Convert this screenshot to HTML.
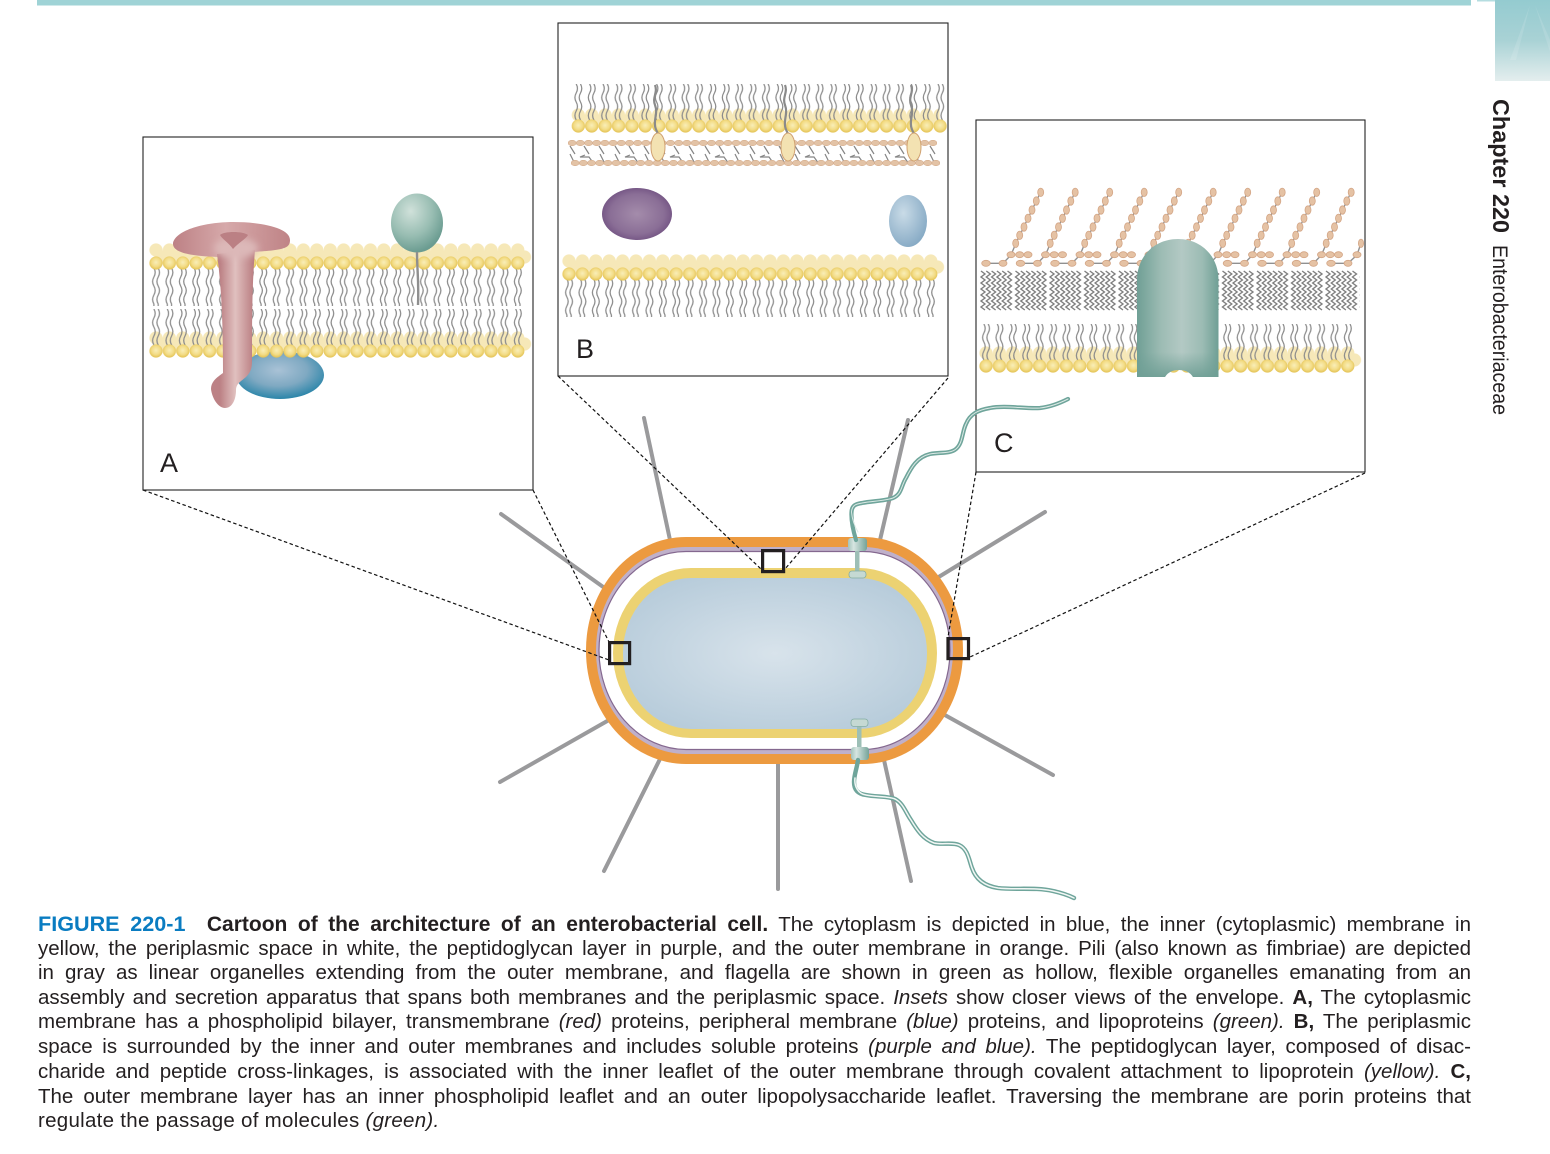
<!DOCTYPE html>
<html lang="en">
<head>
<meta charset="utf-8">
<title>Figure 220-1</title>
<style>
html,body{margin:0;padding:0;background:#fff;}
body{position:relative;width:1550px;height:1154px;overflow:hidden;font-family:"Liberation Sans",sans-serif;}
svg{position:absolute;left:0;top:0;}
.l{position:absolute;left:38px;width:1433px;height:24px;line-height:24px;font-size:20.5px;color:#231f20;text-align:justify;text-align-last:justify;overflow:hidden;}
.l.last{text-align-last:left;letter-spacing:.28px;}
.l b.fig{color:#0a7cc1;margin-right:11px;font-size:21.6px;}
.l b.ttl{font-size:21px;}
.l i{font-style:italic;}
</style>
</head>
<body>
<svg width="1550" height="1154" viewBox="0 0 1550 1154" xmlns="http://www.w3.org/2000/svg">
<defs>
  <radialGradient id="gHead" cx="50%" cy="45%" r="55%"><stop offset="0" stop-color="#f9eeb8"/><stop offset="0.6" stop-color="#f3dc86"/><stop offset="1" stop-color="#e3c253"/></radialGradient>
  <pattern id="hf" patternUnits="userSpaceOnUse" width="13.4" height="14"><circle cx="6.7" cy="7" r="6.6" fill="url(#gHead)"/></pattern>
  <pattern id="hb" patternUnits="userSpaceOnUse" width="13.4" height="14"><circle cx="6.7" cy="7" r="6.6" fill="#f6e8b8"/></pattern>
  <pattern id="tl" patternUnits="userSpaceOnUse" width="13.4" height="38">
    <path d="M4.6 0c1.7 3 1.7 6 0 9c-1.7 3-1.7 6 0 9c1.7 3 1.7 6 0 9c-1.7 3-1.7 6 0 9v2M8.9 0c1.7 3 1.7 6 0 9c-1.7 3-1.7 6 0 9c1.7 3 1.7 6 0 9c-1.7 3-1.7 6 0 9v2" fill="none" stroke="#8a8a8a" stroke-width="1.25"/>
  </pattern>
  <path id="zs" d="M0 1l4 3l-4 3l4 3l-4 3l4 3l-4 3l4 3l-4 3l4 3l-4 3l4 3l-4 3l4 3" fill="none" stroke="#7f7f7f" stroke-width="1.4"/>
  <pattern id="zig" patternUnits="userSpaceOnUse" width="34.5" height="44">
    <use href="#zs" x="1"/><use href="#zs" x="6.3"/><use href="#zs" x="11.6"/><use href="#zs" x="16.9"/><use href="#zs" x="22.2"/><use href="#zs" x="27.5"/>
  </pattern>
  <pattern id="pgb" patternUnits="userSpaceOnUse" width="8.2" height="6"><ellipse cx="4.1" cy="3" rx="4" ry="2.8" fill="#e3c3a6" stroke="#d4ab8a" stroke-width=".5"/></pattern>
  <pattern id="pep" patternUnits="userSpaceOnUse" width="45" height="20">
    <path d="M1 1l5 8M15 1l5 8M30 1l5 8M1 9l5 10M16 10l-5 2h9l5 7M31 9l5 10" fill="none" stroke="#858585" stroke-width="1.2"/>
  </pattern>
  <g id="lps">
    <path d="M986 263.3H1003L1011 255L1016 243L1040.7 192" fill="none" stroke="#909090" stroke-width="1.4"/>
    <g fill="#e5c2a4" stroke="#d3a585" stroke-width=".8">
      <ellipse cx="986" cy="263.3" rx="4.3" ry="3"/><ellipse cx="1003" cy="263.3" rx="4" ry="3"/>
      <ellipse cx="1011" cy="254.7" rx="4" ry="3"/><ellipse cx="1019.7" cy="254.7" rx="4" ry="3"/><ellipse cx="1028" cy="254.7" rx="4" ry="3"/>
      <ellipse cx="1015.7" cy="243.3" rx="3" ry="4.2"/><ellipse cx="1019.7" cy="235.3" rx="3" ry="4.2"/><ellipse cx="1024" cy="227" rx="3" ry="4.2"/><ellipse cx="1028" cy="218.3" rx="3" ry="4.2"/><ellipse cx="1032" cy="210" rx="3" ry="4.2"/><ellipse cx="1036.3" cy="201" rx="3" ry="4.2"/><ellipse cx="1040.7" cy="192.3" rx="3" ry="4.2"/>
    </g>
  </g>
  <radialGradient id="gBlueP" cx="48%" cy="40%" r="60%"><stop offset="0" stop-color="#a9c2d6"/><stop offset=".55" stop-color="#7fa9c2"/><stop offset="1" stop-color="#2b85a9"/></radialGradient>
  <radialGradient id="gGreenB" cx="38%" cy="30%" r="70%"><stop offset="0" stop-color="#d0e1da"/><stop offset=".6" stop-color="#98bdb2"/><stop offset="1" stop-color="#6b9c91"/></radialGradient>
  <linearGradient id="gCap2" x1="0" y1="0" x2="1" y2="0"><stop offset="0" stop-color="#bd8185"/><stop offset=".45" stop-color="#d6a9aa"/><stop offset="1" stop-color="#bf8386"/></linearGradient>
  <linearGradient id="gStem" gradientUnits="userSpaceOnUse" x1="220" y1="0" x2="254" y2="0"><stop offset="0" stop-color="#bc8185"/><stop offset=".45" stop-color="#e0c0bf"/><stop offset="1" stop-color="#ba7d81"/></linearGradient>
  <filter id="blur3" x="-30%" y="-60%" width="160%" height="220%"><feGaussianBlur stdDeviation="3.5"/></filter>
  <radialGradient id="gPur" cx="50%" cy="50%" r="55%"><stop offset="0" stop-color="#a48cab"/><stop offset=".7" stop-color="#8a6e96"/><stop offset="1" stop-color="#6f4f80"/></radialGradient>
  <radialGradient id="gBl2" cx="38%" cy="35%" r="70%"><stop offset="0" stop-color="#c9dbe7"/><stop offset="1" stop-color="#85a9c4"/></radialGradient>
  <linearGradient id="gPorin" x1="0" y1="0" x2="1" y2="0"><stop offset="0" stop-color="#6f9f95"/><stop offset=".3" stop-color="#9dbcb4"/><stop offset=".55" stop-color="#b3c9c4"/><stop offset=".8" stop-color="#9cbcb4"/><stop offset="1" stop-color="#6f9f95"/></linearGradient>
  <linearGradient id="gPorinB" x1="0" y1="0" x2="0" y2="1"><stop offset="0" stop-color="#6f9f95" stop-opacity="0"/><stop offset=".82" stop-color="#6f9f95" stop-opacity="0"/><stop offset="1" stop-color="#6f9f95" stop-opacity=".9"/></linearGradient>
  <radialGradient id="gCyt" cx="50%" cy="50%" r="60%"><stop offset="0" stop-color="#d8e3eb"/><stop offset="1" stop-color="#b6cbda"/></radialGradient>
  <linearGradient id="gCapT" x1="0" y1="0" x2="1" y2="0"><stop offset="0" stop-color="#a3c3bb"/><stop offset=".3" stop-color="#d7e5e1"/><stop offset="1" stop-color="#74a398"/></linearGradient>
  <linearGradient id="gCorner" x1="0" y1="0" x2="0" y2="1"><stop offset="0" stop-color="#94cbd0"/><stop offset=".5" stop-color="#a9d2d5"/><stop offset="1" stop-color="#e4eeee"/></linearGradient>
</defs>

<!-- header -->
<rect x="37" y="0" width="1434" height="5.5" fill="#9fd3d6"/>
<rect x="1477" y="0" width="18" height="1.5" fill="#b5dde0"/>
<rect x="1495" y="0" width="55" height="81" fill="url(#gCorner)"/>
<path d="M1535 5L1550 40V52ZM1530 5L1510 60L1516 60Z" fill="#fff" opacity=".12"/>
<text transform="translate(1493,99) rotate(90)" font-family="Liberation Sans,sans-serif" font-size="23" font-weight="bold" fill="#231f20" textLength="134" lengthAdjust="spacingAndGlyphs">Chapter 220</text>
<text transform="translate(1493,245) rotate(90)" font-family="Liberation Sans,sans-serif" font-size="21" fill="#231f20" textLength="170" lengthAdjust="spacingAndGlyphs">Enterobacteriaceae</text>

<!-- pili -->
<g stroke="#9a9a9c" stroke-width="4" stroke-linecap="round" fill="none">
  <path d="M644 418L670 540M501 514L606 589M908 420L880 540M1045 512L937 578M1053 775L943 714M911 881L884 760M778 889L778 762M604 871L660 759M500 782L609 720"/>
</g>

<!-- cell -->
<rect x="586" y="537" width="377" height="227" rx="100" ry="113" fill="#ec9a40"/>
<rect x="596" y="547" width="357" height="207" rx="90" ry="103" fill="#bfb0ca"/>
<rect x="599" y="551.5" width="351" height="198" rx="87" ry="99" fill="#fff" stroke="#84688f" stroke-width="1.2"/>
<rect x="613" y="568" width="324" height="170" rx="78" ry="85" fill="#ecd272"/>
<rect x="623" y="578" width="304" height="151" rx="68" ry="75" fill="url(#gCyt)"/>

<!-- apparatus -->
<rect x="855" y="551" width="4.5" height="21" fill="#9dbfb6"/>
<rect x="848" y="538" width="19" height="13" rx="3" fill="url(#gCapT)"/>
<rect x="849" y="571" width="17" height="7" rx="3" fill="#c5d9d3" stroke="#83ada3" stroke-width=".8"/>
<rect x="857" y="726" width="4.5" height="21" fill="#9dbfb6"/>
<rect x="851" y="747" width="18" height="13" rx="3" fill="url(#gCapT)"/>
<rect x="851" y="719" width="17" height="7.5" rx="3" fill="#c5d9d3" stroke="#83ada3" stroke-width=".8"/>

<!-- dashed connectors -->
<g fill="none" stroke="#111" stroke-width="1.2" stroke-dasharray="3.5 2.5">
  <path d="M143 490L609 660M533 490L609 642M558 376L761 569M948 378L785 569M976 472L948 637M1365 473L970 657"/>
</g>

<!-- selection squares -->
<g fill="none" stroke="#231f20" stroke-width="3.2">
  <rect x="609.6" y="642.6" width="20" height="21"/>
  <rect x="762.6" y="550.6" width="21" height="21"/>
  <rect x="948" y="638.6" width="20.5" height="20"/>
</g>

<!-- Panel A -->
<rect x="143" y="137" width="390" height="353" fill="#fff" stroke="#222" stroke-width="1.1"/>
<rect transform="translate(149.3,243)" width="375.2" height="14" fill="url(#hb)"/>
<rect transform="translate(156,250)" width="375.2" height="14" fill="url(#hb)"/>
<rect transform="translate(149.3,268)" width="375.2" height="38" fill="url(#tl)"/>
<rect transform="translate(149.3,256)" width="375.2" height="14" fill="url(#hf)"/>
<ellipse cx="280" cy="375" rx="44" ry="24" fill="url(#gBlueP)"/>
<rect transform="translate(149.3,331)" width="375.2" height="14" fill="url(#hb)"/>
<rect transform="translate(156,337)" width="375.2" height="14" fill="url(#hb)"/>
<rect transform="translate(149.3,309)" width="375.2" height="38" fill="url(#tl)"/>
<rect transform="translate(149.3,344)" width="375.2" height="14" fill="url(#hf)"/>
<ellipse cx="417" cy="223" rx="26" ry="29.5" fill="url(#gGreenB)"/>
<path d="M417 252C417 270 419 280 418 305" fill="none" stroke="#8f8f8f" stroke-width="2.4"/>
<!-- transmembrane protein -->
<path d="M173 243C176 230 205 222 233 222C262 222 290 228 290 240C290 248 285 250 253 252L218 257C195 256 172 254 173 243Z" fill="url(#gCap2)"/>
<path d="M217 254C222 290 223 330 223 373C216 378 211 382 211 389C212 398 218 408 225 408C232 408 236 400 236 390C236 384 240 382 246 377C251 372 252 368 252 360C252 320 252 285 255 250Z" fill="url(#gStem)"/>
<ellipse cx="236" cy="248" rx="22" ry="10" fill="#dcb8b8" filter="url(#blur3)"/>
<path d="M220 235C224 231 243 231 248 235C246 239 238 243 233 249C229 243 222 239 220 235Z" fill="#bb8084"/>
<text x="160" y="472" font-family="Liberation Sans,sans-serif" font-size="27" fill="#231f20">A</text>

<!-- Panel B -->
<rect x="558" y="23" width="390" height="353" fill="#fff" stroke="#222" stroke-width="1.1"/>
<rect transform="translate(571.6,108)" width="368" height="14" fill="url(#hb)"/>
<rect transform="translate(578.3,114)" width="362" height="14" fill="url(#hb)"/>
<rect transform="translate(571.6,84)" width="375.2" height="38" fill="url(#tl)"/>
<rect transform="translate(571.6,119)" width="375.2" height="14" fill="url(#hf)"/>
<rect transform="translate(569,145)" width="369" height="20" fill="url(#pep)"/>
<rect transform="translate(568,140)" width="369" height="6" fill="url(#pgb)"/>
<rect transform="translate(571,160)" width="369" height="6" fill="url(#pgb)"/>
<g fill="none" stroke="#8a8a8a" stroke-width="2.2">
  <path d="M655 85c3 8-3 12 0 20c3 8-1 14 0 20c0 4 2 6 3 9"/>
  <path d="M785 85c3 8-3 12 0 20c3 8-1 14 0 20c0 4 2 6 3 9"/>
  <path d="M911 85c3 8-3 12 0 20c3 8-1 14 0 20c0 4 2 6 3 9"/>
</g>
<g fill="#f3e2b2" stroke="#d0a171" stroke-width="1">
  <ellipse cx="658" cy="147" rx="7" ry="14"/>
  <ellipse cx="788" cy="147" rx="7" ry="14"/>
  <ellipse cx="914" cy="147" rx="7" ry="14"/>
</g>
<ellipse cx="637" cy="214" rx="35" ry="26" fill="url(#gPur)"/>
<ellipse cx="908" cy="221" rx="19" ry="26" fill="url(#gBl2)"/>
<rect transform="translate(562.3,254)" width="375.2" height="14" fill="url(#hb)"/>
<rect transform="translate(569,260)" width="375.2" height="14" fill="url(#hb)"/>
<rect transform="translate(562.3,279)" width="375.2" height="38" fill="url(#tl)"/>
<rect transform="translate(562.3,267)" width="375.2" height="14" fill="url(#hf)"/>
<text x="576" y="358" font-family="Liberation Sans,sans-serif" font-size="27" fill="#231f20">B</text>

<!-- Panel C -->
<rect x="976" y="120" width="389" height="352" fill="#fff" stroke="#222" stroke-width="1.1"/>
<use href="#lps"/><use href="#lps" x="34.5"/><use href="#lps" x="69"/><use href="#lps" x="103.5"/><use href="#lps" x="138"/><use href="#lps" x="172.5"/><use href="#lps" x="207"/><use href="#lps" x="241.5"/><use href="#lps" x="276"/><use href="#lps" x="310.5"/>
<path d="M1331 263.3H1348L1357 255L1361 243" fill="none" stroke="#909090" stroke-width="1.4"/>
<g fill="#e5c2a4" stroke="#d3a585" stroke-width=".8"><ellipse cx="1331" cy="263.3" rx="4.3" ry="3"/><ellipse cx="1348" cy="263.3" rx="4" ry="3"/><ellipse cx="1357" cy="254.7" rx="4" ry="3"/><ellipse cx="1361" cy="243.3" rx="2.6" ry="4.2"/></g>
<rect transform="translate(980,270)" width="380" height="44" fill="url(#zig)"/>
<rect transform="translate(979.3,346)" width="375.2" height="14" fill="url(#hb)"/>
<rect transform="translate(986,353)" width="375.2" height="14" fill="url(#hb)"/>
<rect transform="translate(979.3,324)" width="375.2" height="38" fill="url(#tl)"/>
<rect transform="translate(979.3,359)" width="375.2" height="14" fill="url(#hf)"/>
<path d="M1137 377V280C1137 256 1155 239 1178 239C1201 239 1218.5 256 1218.5 280V377H1193C1190 372 1185 370 1179 370C1173 370 1168 372 1165 377Z" fill="url(#gPorin)"/>
<path d="M1137 377V280C1137 256 1155 239 1178 239C1201 239 1218.5 256 1218.5 280V377H1193C1190 372 1185 370 1179 370C1173 370 1168 372 1165 377Z" fill="url(#gPorinB)"/>
<text x="994" y="452" font-family="Liberation Sans,sans-serif" font-size="27" fill="#231f20">C</text>

<!-- flagella -->
<g fill="none" stroke-linecap="round">
  <path d="M856 540C853 530 851 520 851.5 512C852 505 856 504 862 503C872 501 885 501 893 498C902 494 901 486 906 478C911 468 917 457 930 454C940 452 950 454 956 449C963 443 962 432 966 424C970 414 978 410 990 408C1005 405 1025 409 1040 408C1050 407 1060 403 1068 399" stroke="#6fa59b" stroke-width="4.2"/>
  <path d="M858 532C854 525 852 518 851.5 512C852 505 856 504 862 503C872 501 885 501 893 498C902 494 901 486 906 478C911 468 917 457 930 454C940 452 950 454 956 449C963 443 962 432 966 424C970 414 978 410 990 408C1005 405 1025 409 1040 408C1050 407 1060 403 1068 399" stroke="#dbe9e5" stroke-width="1"/>
  <path d="M858 760C857 768 854 775 854 782C854 790 858 794 866 795C875 797 888 796 895 799C903 803 906 813 911 820C917 830 923 839 934 843C942 845 952 842 959 845C968 849 969 860 972 868C976 880 985 886 998 888C1015 890 1035 887 1053 891C1062 893 1068 895 1074 898" stroke="#6fa59b" stroke-width="4.4"/>
  <path d="M855 778C854 786 858 794 866 795C875 797 888 796 895 799C903 803 906 813 911 820C917 830 923 839 934 843C942 845 952 842 959 845C968 849 969 860 972 868C976 880 985 886 998 888C1015 890 1035 887 1053 891C1062 893 1068 895 1074 898" stroke="#f2f7f5" stroke-width="1.5"/>
</g>
</svg>

<div class="l" style="top:912px"><b class="fig">FIGURE 220-1</b> <b class="ttl">Cartoon of the architecture of an enterobacterial cell.</b> The cytoplasm is depicted in blue, the inner (cytoplasmic) membrane in</div>
<div class="l" style="top:937px">yellow, the periplasmic space in white, the peptidoglycan layer in purple, and the outer membrane in orange. Pili (also known as fimbriae) are depicted</div>
<div class="l" style="top:961px">in gray as linear organelles extending from the outer membrane, and flagella are shown in green as hollow, flexible organelles emanating from an</div>
<div class="l" style="top:986px">assembly and secretion apparatus that spans both membranes and the periplasmic space. <i>Insets</i> show closer views of the envelope. <b>A,</b> The cytoplasmic</div>
<div class="l" style="top:1010px">membrane has a phospholipid bilayer, transmembrane <i>(red)</i> proteins, peripheral membrane <i>(blue)</i> proteins, and lipoproteins <i>(green).</i> <b>B,</b> The periplasmic</div>
<div class="l" style="top:1035px">space is surrounded by the inner and outer membranes and includes soluble proteins <i>(purple and blue).</i> The peptidoglycan layer, composed of disac-</div>
<div class="l" style="top:1060px">charide and peptide cross-linkages, is associated with the inner leaflet of the outer membrane through covalent attachment to lipoprotein <i>(yellow).</i> <b>C,</b></div>
<div class="l" style="top:1085px">The outer membrane layer has an inner phospholipid leaflet and an outer lipopolysaccharide leaflet. Traversing the membrane are porin proteins that</div>
<div class="l last" style="top:1109px">regulate the passage of molecules <i>(green).</i></div>
</body>
</html>
